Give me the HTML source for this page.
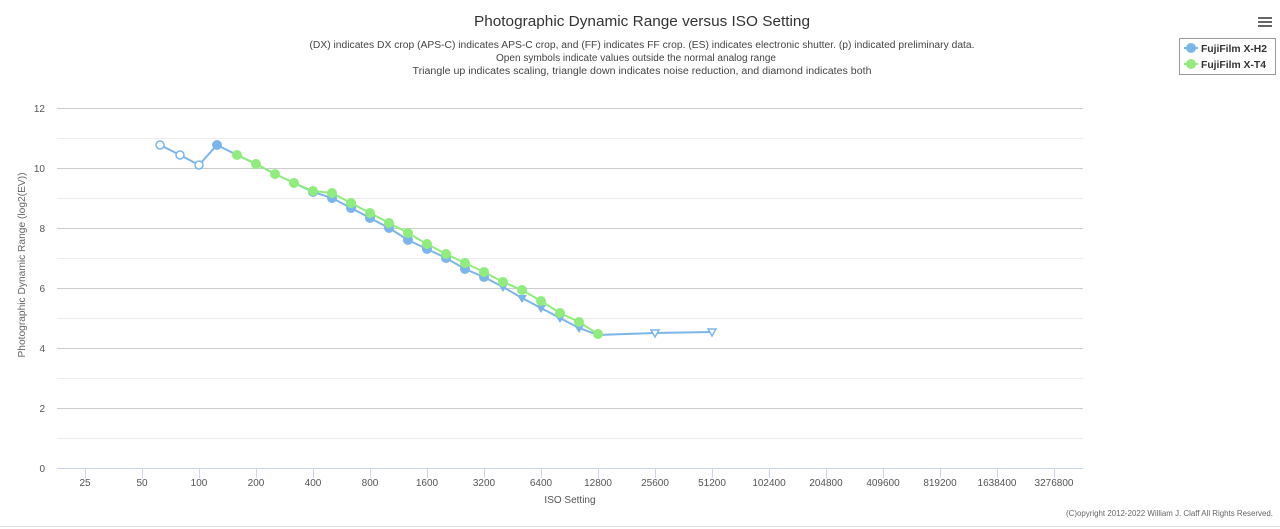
<!DOCTYPE html>
<html><head><meta charset="utf-8"><style>
html,body{margin:0;padding:0;background:#fff;}
svg{display:block;font-family:"Liberation Sans",sans-serif;}
</style></head><body>
<svg width="1280" height="529" viewBox="0 0 1280 529" xmlns="http://www.w3.org/2000/svg">
<rect width="1280" height="529" fill="#fff"/>
<text x="642" y="26" text-anchor="middle" font-size="15" fill="#333" textLength="336" lengthAdjust="spacingAndGlyphs">Photographic Dynamic Range versus ISO Setting</text>
<g font-size="10" fill="#444" text-anchor="middle">
<text x="642" y="48" textLength="665" lengthAdjust="spacingAndGlyphs">(DX) indicates DX crop (APS-C) indicates APS-C crop, and (FF) indicates FF crop. (ES) indicates electronic shutter. (p) indicated preliminary data.</text>
<text x="636" y="61" textLength="280" lengthAdjust="spacingAndGlyphs">Open symbols indicate values outside the normal analog range</text>
<text x="642" y="74" textLength="459" lengthAdjust="spacingAndGlyphs">Triangle up indicates scaling, triangle down indicates noise reduction, and diamond indicates both</text>
</g>
<!-- grid -->
<g stroke-width="1">
<line x1="57" x2="1083" y1="108.5" y2="108.5" stroke="#ccc"/>
<line x1="57" x2="1083" y1="138.5" y2="138.5" stroke="#ececec"/>
<line x1="57" x2="1083" y1="168.5" y2="168.5" stroke="#ccc"/>
<line x1="57" x2="1083" y1="198.5" y2="198.5" stroke="#ececec"/>
<line x1="57" x2="1083" y1="228.5" y2="228.5" stroke="#ccc"/>
<line x1="57" x2="1083" y1="258.5" y2="258.5" stroke="#ececec"/>
<line x1="57" x2="1083" y1="288.5" y2="288.5" stroke="#ccc"/>
<line x1="57" x2="1083" y1="318.5" y2="318.5" stroke="#ececec"/>
<line x1="57" x2="1083" y1="348.5" y2="348.5" stroke="#ccc"/>
<line x1="57" x2="1083" y1="378.5" y2="378.5" stroke="#ececec"/>
<line x1="57" x2="1083" y1="408.5" y2="408.5" stroke="#ccc"/>
<line x1="57" x2="1083" y1="438.5" y2="438.5" stroke="#ececec"/>
<line x1="57" x2="1083" y1="468.5" y2="468.5" stroke="#ccd6eb"/>
</g>
<g font-size="10" fill="#555" text-anchor="end">
<text x="45" y="112">12</text><text x="45" y="172">10</text><text x="45" y="232">8</text>
<text x="45" y="292">6</text><text x="45" y="352">4</text><text x="45" y="412">2</text><text x="45" y="472">0</text>
</g>
<text transform="translate(25,265) rotate(-90)" font-size="10" fill="#666" text-anchor="middle" textLength="185" lengthAdjust="spacingAndGlyphs">Photographic Dynamic Range (log2(EV))</text>
<g stroke="#ccd6eb">
<line x1="85.5" x2="85.5" y1="468" y2="478"/><line x1="142.5" x2="142.5" y1="468" y2="478"/><line x1="199.5" x2="199.5" y1="468" y2="478"/><line x1="256.5" x2="256.5" y1="468" y2="478"/><line x1="313.5" x2="313.5" y1="468" y2="478"/><line x1="370.5" x2="370.5" y1="468" y2="478"/><line x1="427.5" x2="427.5" y1="468" y2="478"/><line x1="484.5" x2="484.5" y1="468" y2="478"/><line x1="541.5" x2="541.5" y1="468" y2="478"/><line x1="598.5" x2="598.5" y1="468" y2="478"/><line x1="655.5" x2="655.5" y1="468" y2="478"/><line x1="712.5" x2="712.5" y1="468" y2="478"/><line x1="769.5" x2="769.5" y1="468" y2="478"/><line x1="826.5" x2="826.5" y1="468" y2="478"/><line x1="883.5" x2="883.5" y1="468" y2="478"/><line x1="940.5" x2="940.5" y1="468" y2="478"/><line x1="997.5" x2="997.5" y1="468" y2="478"/><line x1="1054.5" x2="1054.5" y1="468" y2="478"/>
</g>
<g font-size="10" fill="#555" text-anchor="middle">
<text x="85" y="486">25</text><text x="142" y="486">50</text><text x="199" y="486">100</text><text x="256" y="486">200</text><text x="313" y="486">400</text><text x="370" y="486">800</text><text x="427" y="486">1600</text><text x="484" y="486">3200</text><text x="541" y="486">6400</text><text x="598" y="486">12800</text><text x="655" y="486">25600</text><text x="712" y="486">51200</text><text x="769" y="486">102400</text><text x="826" y="486">204800</text><text x="883" y="486">409600</text><text x="940" y="486">819200</text><text x="997" y="486">1638400</text><text x="1054" y="486">3276800</text>
</g>
<text x="570" y="503" font-size="10" fill="#555" text-anchor="middle">ISO Setting</text>
<!-- X-H2 -->
<polyline fill="none" stroke="#7cb5ec" stroke-width="2" points="160,145 180,155 199,165 217,145 237,155 256,164 275,174 294,183 313,192 332,198 351,208 370,218 389,228 408,240 427,249 446,258 465,269 484,277 503,287 522,298 541,308 560,318 579,328 598,335 655,333 712,332"/>
<!-- X-T4 -->
<polyline fill="none" stroke="#90ed7d" stroke-width="2" points="237,155 256,164 275,174 294,183 313,191 332,193 351,203 370,213 389,223 408,233 427,244 446,254 465,263 484,272 503,282 522,290 541,301 560,313 579,322 598,334"/>
<g fill="#fff" stroke="#7cb5ec" stroke-width="1.5">
<circle cx="160" cy="145" r="4"/><circle cx="180" cy="155" r="4"/><circle cx="199" cy="165" r="4"/>
<path d="M651,330 L659,330 L655,337 Z"/><path d="M708,329 L716,329 L712,336 Z"/>
</g>
<g fill="#7cb5ec">
<circle cx="217" cy="145" r="5"/><circle cx="313" cy="192" r="5"/><circle cx="332" cy="198" r="5"/><circle cx="351" cy="208" r="5"/><circle cx="370" cy="218" r="5"/><circle cx="389" cy="228" r="5"/><circle cx="408" cy="240" r="5"/><circle cx="427" cy="249" r="5"/><circle cx="446" cy="258" r="5"/><circle cx="465" cy="269" r="5"/><circle cx="484" cy="277" r="5"/>
<path d="M498,284 L508,284 L503,292 Z"/><path d="M517,295 L527,295 L522,303 Z"/><path d="M536,305 L546,305 L541,313 Z"/><path d="M555,315 L565,315 L560,323 Z"/><path d="M574,325 L584,325 L579,333 Z"/>
</g>
<g fill="#90ed7d">
<circle cx="237" cy="155" r="5"/><circle cx="256" cy="164" r="5"/><circle cx="275" cy="174" r="5"/><circle cx="294" cy="183" r="5"/><circle cx="313" cy="191" r="5"/><circle cx="332" cy="193" r="5"/><circle cx="351" cy="203" r="5"/><circle cx="370" cy="213" r="5"/><circle cx="389" cy="223" r="5"/><circle cx="408" cy="233" r="5"/><circle cx="427" cy="244" r="5"/><circle cx="446" cy="254" r="5"/><circle cx="465" cy="263" r="5"/><circle cx="484" cy="272" r="5"/><circle cx="503" cy="282" r="5"/><circle cx="522" cy="290" r="5"/><circle cx="541" cy="301" r="5"/><circle cx="560" cy="313" r="5"/><circle cx="579" cy="322" r="5"/><circle cx="598" cy="334" r="5"/>
</g>
<!-- menu -->
<g fill="#666"><rect x="1258" y="17" width="14" height="2"/><rect x="1258" y="21" width="14" height="2"/><rect x="1258" y="25" width="14" height="2"/></g>
<!-- legend -->
<rect x="1179.5" y="38.5" width="96" height="36" fill="#fff" stroke="#999"/>
<line x1="1184" x2="1198" y1="48" y2="48" stroke="#7cb5ec" stroke-width="2"/><circle cx="1191" cy="48" r="5" fill="#7cb5ec"/>
<line x1="1184" x2="1198" y1="64" y2="64" stroke="#90ed7d" stroke-width="2"/><circle cx="1191" cy="64" r="5" fill="#90ed7d"/>
<g font-size="10" font-weight="bold" fill="#333">
<text x="1201" y="52" textLength="66" lengthAdjust="spacingAndGlyphs">FujiFilm X-H2</text>
<text x="1201" y="68" textLength="65" lengthAdjust="spacingAndGlyphs">FujiFilm X-T4</text>
</g>
<text x="1273" y="516" font-size="8" fill="#666" text-anchor="end" textLength="207" lengthAdjust="spacingAndGlyphs">(C)opyright 2012-2022 William J. Claff All Rights Reserved.</text>
<line x1="0" x2="1280" y1="526.5" y2="526.5" stroke="#ddd"/>
</svg>
</body></html>
